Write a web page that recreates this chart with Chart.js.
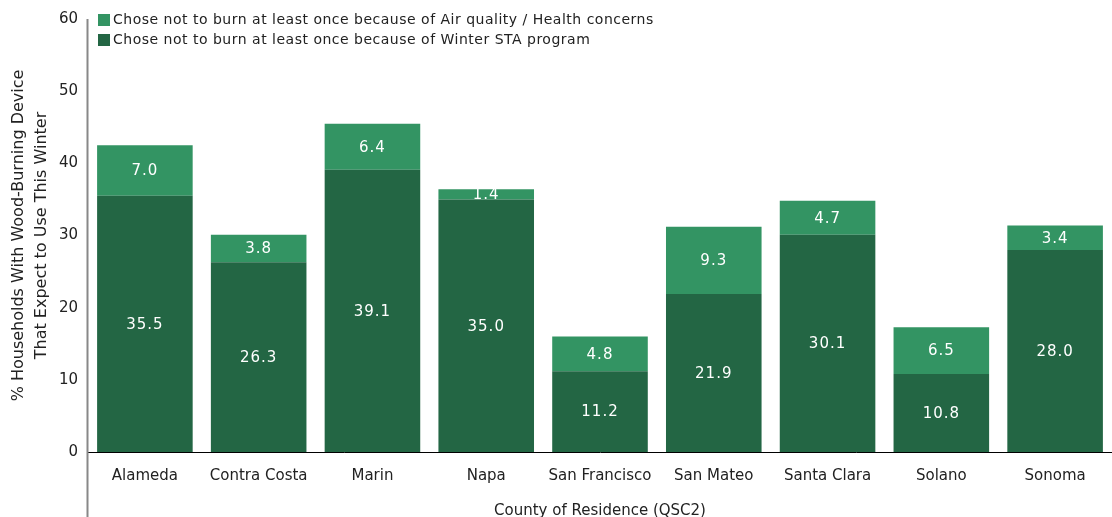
<!DOCTYPE html>
<html>
<head>
<meta charset="utf-8">
<script src="https://cdn.jsdelivr.net/npm/chart.js@4.4.1/dist/chart.umd.min.js"></script>
<style>
  html, body { margin: 0; padding: 0; background: #fff; }
  #wrap { width: 1112px; height: 517px; }
</style>
</head>
<body>
<div id="wrap"><canvas id="chart" width="1112" height="517"></canvas></div>
<script>
// values
var counties = ["Alameda", "Contra Costa", "Marin", "Napa", "San Francisco", "San Mateo", "Santa Clara", "Solano", "Sonoma"];
var winterSta = [35.5, 26.3, 39.1, 35.0, 11.2, 21.9, 30.1, 10.8, 28.0];
var airQuality = [7.0, 3.8, 6.4, 1.4, 4.8, 9.3, 4.7, 6.5, 3.4];
var yTicks = [0, 10, 20, 30, 40, 50, 60];

var FONT = "'DejaVu Sans', Verdana, sans-serif";
var DARK = "#236644";
var LIGHT = "#339463";

// white numbers in the middle of each segment
var segmentLabels = {
  id: "segmentLabels",
  afterDatasetsDraw: function (chart) {
    var ctx = chart.ctx;
    ctx.save();
    ctx.fillStyle = "#fff";
    ctx.font = "15px " + FONT;
    ctx.letterSpacing = "1px";
    ctx.textAlign = "center";
    ctx.textBaseline = "middle";
    chart.data.datasets.forEach(function (ds, i) {
      chart.getDatasetMeta(i).data.forEach(function (bar, j) {
        var mid = (bar.y + bar.base) / 2;
        ctx.fillText(ds.data[j].toFixed(1), bar.x, mid + 1);
      });
    });
    ctx.restore();
  }
};

// legend in the top-left corner of the plot, light series first
var cornerLegend = {
  id: "cornerLegend",
  afterDraw: function (chart) {
    var ctx = chart.ctx;
    var left = chart.chartArea.left + 10;
    var items = chart.data.datasets.slice().reverse();
    ctx.save();
    ctx.font = "14px " + FONT;
    ctx.letterSpacing = "0.5px";
    ctx.textBaseline = "middle";
    items.forEach(function (ds, i) {
      var cy = 20 + i * 20;
      ctx.fillStyle = ds.backgroundColor;
      ctx.fillRect(left, cy - 6, 12, 12);
      ctx.fillStyle = "#222";
      ctx.fillText(ds.label, left + 15, cy);
    });
    ctx.restore();
  }
};

// grey y axis line that runs down to the bottom of the picture
var yLine = {
  id: "yLine",
  afterDraw: function (chart) {
    var ctx = chart.ctx;
    var x = chart.chartArea.left - 0.5;
    ctx.save();
    ctx.strokeStyle = "#888";
    ctx.lineWidth = 2;
    ctx.beginPath();
    ctx.moveTo(x, chart.chartArea.top);
    ctx.lineTo(x, chart.height);
    ctx.stroke();
    ctx.restore();
  }
};

new Chart(document.getElementById("chart"), {
  type: "bar",
  data: {
    labels: counties,
    datasets: [
      {
        label: "Chose not to burn at least once because of Winter STA program",
        data: winterSta,
        backgroundColor: DARK
      },
      {
        label: "Chose not to burn at least once because of Air quality / Health concerns",
        data: airQuality,
        backgroundColor: LIGHT
      }
    ]
  },
  options: {
    responsive: false,
    animation: false,
    layout: { padding: { top: 14, right: 0, left: 0, bottom: 0 } },
    datasets: { bar: { categoryPercentage: 1, barPercentage: 0.84 } },
    plugins: {
      legend: { display: false },
      tooltip: { enabled: false }
    },
    scales: {
      x: {
        stacked: true,
        grid: { display: false, drawTicks: false },
        border: { display: true, color: "#000", width: 1 },
        ticks: { color: "#222", font: { family: FONT, size: 15 }, padding: 15 },
        title: {
          display: true,
          text: "County of Residence (QSC2)",
          color: "#222",
          font: { family: FONT, size: 15 },
          padding: { top: 15, bottom: -3 }
        },
        afterFit: function (s) { s.height = 65; }
      },
      y: {
        stacked: true,
        min: 0,
        max: 60,
        afterBuildTicks: function (s) { s.ticks = yTicks.map(function (v) { return { value: v }; }); },
        grid: { display: false, drawTicks: false },
        border: { display: false },
        ticks: { color: "#222", font: { family: FONT, size: 15 }, padding: 10 },
        title: {
          display: true,
          text: ["% Households With Wood-Burning Device", "That Expect to Use This Winter"],
          color: "#222",
          font: { family: FONT, size: 16, lineHeight: 1.4 },
          padding: { top: 8, bottom: 4 }
        },
        afterFit: function (s) { s.width = 88; }
      }
    }
  },
  plugins: [segmentLabels, cornerLegend, yLine]
});
</script>
</body>
</html>
